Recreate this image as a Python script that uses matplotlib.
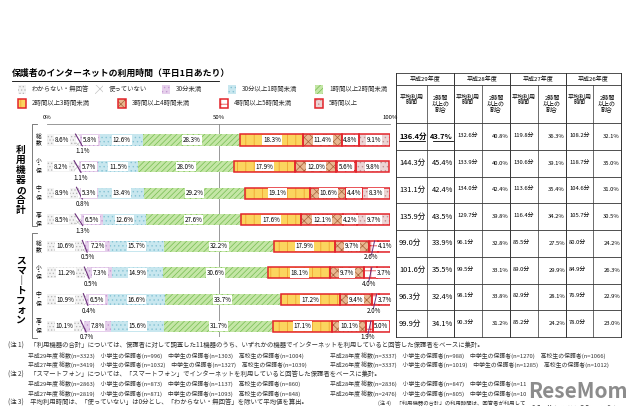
import numpy as np
import matplotlib.pyplot as plt
from matplotlib.patches import Rectangle

plt.rcParams['font.family'] = ['Noto Sans CJK JP', 'DejaVu Sans']
plt.rcParams['hatch.linewidth'] = 0.5

title = '保護者のインターネットの利用時間（平日1日あたり）'
categories = ['わからない・無回答', '使っていない', '30分未満', '30分以上1時間未満', '1時間以上2時間未満',
              '2時間以上3時間未満', '3時間以上4時間未満', '4時間以上5時間未満', '5時間以上']
groups = ['利用機器の合計', 'スマートフォン']
row_labels = ['総数', '小・保', '中・保', '高・保'] * 2

# percentages per row (8 rows: 4 for total devices, 4 for smartphone)
unknown = [8.6, 8.2, 8.9, 8.5, 10.6, 11.2, 10.9, 10.1]
not_used = [1.1, 1.1, 0.8, 1.3, 0.5, 0.5, 0.4, 0.7]
under_30m = [5.8, 5.7, 5.3, 6.5, 7.2, 7.3, 6.5, 7.8]
m30_1h = [12.6, 11.5, 13.4, 12.6, 15.7, 14.9, 16.6, 15.6]
h1_2 = [28.3, 28.0, 29.2, 27.6, 32.2, 30.6, 33.7, 31.7]
h2_3 = [18.3, 17.9, 19.1, 17.6, 17.9, 18.1, 17.2, 17.1]
h3_4 = [11.4, 12.0, 10.6, 12.1, 9.7, 9.7, 9.4, 10.1]
h4_5 = [4.8, 5.6, 4.4, 4.2, 2.6, 4.0, 2.0, 1.9]
h5_plus = [9.1, 9.8, 8.3, 9.7, 4.1, 3.7, 3.7, 5.0]

years = ['平成29年度', '平成28年度', '平成27年度', '平成26年度']
avg_h29 = [136.4, 144.3, 131.1, 135.9, 99.0, 101.6, 96.3, 99.9]
share_h29 = [43.7, 45.4, 42.4, 43.5, 33.9, 35.5, 32.4, 34.1]
avg_h28 = [132.6, 133.9, 134.0, 129.7, 96.1, 99.5, 98.1, 90.3]
share_h28 = [40.8, 40.0, 42.4, 39.8, 32.8, 33.1, 33.8, 31.2]
avg_h27 = [119.8, 130.6, 113.6, 116.4, 85.5, 89.0, 82.9, 85.2]
share_h27 = [36.3, 39.1, 35.4, 34.2, 27.5, 29.9, 28.1, 24.2]
avg_h26 = [108.2, 118.7, 104.6, 105.7, 80.0, 84.9, 76.9, 78.0]
share_h26 = [32.1, 35.0, 31.0, 30.5, 24.2, 26.3, 22.9, 23.0]

notes_left = [
    (8, '(注 1)　「利用機器の合計」については、保護者に対して調査した11機器のうち、いずれかの機器でインターネットを利用していると回答した保護者をベースに集計。'),
    (28, '平成29年度 総数(n=3323)　小学生の保護者(n=996)　中学生の保護者(n=1303)　高校生の保護者(n=1004)'),
    (28, '平成27年度 総数(n=3419)　小学生の保護者(n=1032)　中学生の保護者(n=1327)　高校生の保護者(n=1039)'),
    (8, '(注 2)　「スマートフォン」については、「スマートフォン」でインターネットを利用していると回答した保護者をベースに集計。'),
    (28, '平成29年度 総数(n=2863)　小学生の保護者(n=873)　中学生の保護者(n=1137)　高校生の保護者(n=860)'),
    (28, '平成27年度 総数(n=2819)　小学生の保護者(n=871)　中学生の保護者(n=1093)　高校生の保護者(n=848)'),
    (8, '(注 3)　平均利用時間は、「使っていない」は0分とし、「わからない・無回答」を除いて平均値を算出。'),
]
notes_right = {
    1: '平成28年度 総数(n=3337)　小学生の保護者(n=988)　中学生の保護者(n=1270)　高校生の保護者(n=1066)',
    2: '平成26年度 総数(n=3337)　小学生の保護者(n=1019)　中学生の保護者(n=1285)　高校生の保護者(n=1012)',
    4: '平成28年度 総数(n=2836)　小学生の保護者(n=847)　中学生の保護者(n=1120)　高校生の保護者(n=869)',
    5: '平成26年度 総数(n=2476)　小学生の保護者(n=805)　中学生の保護者(n=1025)　高校生の保護者(n=646)',
    6: '(注 4)　「利用機器の合計」の利用時間は、回答者が利用している各機器の利用時間を合算したもの。',
}

faces = ['#f3f3f3', '#ffffff', '#e6d0ec', '#c8e7ef', '#c4e6a6', '#fbd55e', '#e8b890', '#ffffff', '#ecd4d4']
hatches = ['.....', 'xxx', '....', '....', '//////', '||', 'xxxx', '++', '....']
hcols = ['#b5b5b5', '#c4c4c4', '#c49ad2', '#86c3d4', '#76bd52', '#ee9a2a', '#a8623a', '#e02a2a', '#c29393']
RED = '#e3242b'

W, H = 640, 412
fig = plt.figure(figsize=(6.4, 4.12), dpi=100)
bg = fig.add_axes([0, 0, 1, 1])
bg.set_xlim(0, W)
bg.set_ylim(H, 0)
bg.axis('off')


def frac(x0, y0, x1, y1):
    return [x0 / W, 1 - y1 / H, (x1 - x0) / W, (y1 - y0) / H]


ax = fig.add_axes(frac(47, 124, 390, 337))
ax.patch.set_alpha(0)
ax.set_xlim(0, 100)
ax.set_ylim(7.41, -0.60)
for s in ['left', 'right', 'bottom']:
    ax.spines[s].set_visible(False)
ax.spines['top'].set_color('#888888')
ax.spines['top'].set_linewidth(0.6)
ax.set_xticks([])
ax.set_yticks([])
ax.axvline(50, color='#888888', lw=0.6, zorder=0)

series = [unknown, not_used, under_30m, m30_1h, h1_2, h2_3, h3_4, h4_5, h5_plus]
y = np.arange(len(unknown))
bh = 0.42
left = np.zeros(len(y))
lab_box = dict(boxstyle='square,pad=0.12', fc='white', ec='none')
for k, vals in enumerate(series):
    vals = np.array(vals)
    ax.barh(y, vals, left=left, height=bh, color=faces[k], hatch=hatches[k],
            edgecolor=hcols[k], linewidth=0, zorder=2)
    if k >= 5:
        ax.barh(y, vals, left=left, height=bh, fill=False, edgecolor=RED,
                linewidth=1.1, zorder=3)
    for i, v in enumerate(vals):
        cx = left[i] + v / 2
        if k == 1:
            ax.plot([left[i] - 0.3, left[i] + v + 0.6], [i - 0.22, i + 0.22],
                    color='#6a2f7a', lw=0.8, zorder=4)
            ax.text(cx + 1.2, i + 0.42, f'{v:.1f}%', fontsize=4.5,
                    ha='center', va='center', zorder=5)
        elif k == 7 and i >= 4:
            ax.plot([cx - 0.5, cx + 0.4], [i + 0.32, i - 0.2],
                    color='#6a2f7a', lw=0.7, zorder=4)
            ax.text(cx - 0.5, i + 0.42, f'{v:.1f}%', fontsize=4.5,
                    ha='center', va='center', zorder=5)
        else:
            ax.text(cx, i, f'{v:.1f}%', fontsize=4.5, ha='center', va='center',
                    bbox=lab_box, zorder=5)
    left += vals

# axis percentage labels
for p, lab in [(0, '0%'), (50, '50%'), (100, '100%')]:
    bg.text(47 + p * 3.43, 117.5, lab, fontsize=4.3, ha='center', va='center')

# title
bg.text(12, 73, title, fontsize=6.4, fontweight='bold', ha='left', va='center')
bg.plot([12, 219], [80.5, 80.5], color='black', lw=0.6)

# legend
leg_pos = [(22, 89), (99, 89), (166, 89), (232, 89), (319, 89),
           (22, 103), (122, 103), (224, 103), (319, 103)]
for k, (lx, ly) in enumerate(leg_pos):
    bg.add_patch(Rectangle((lx - 4, ly - 4.5), 8, 9, facecolor=faces[k], hatch=hatches[k],
                           edgecolor=hcols[k], linewidth=0))
    if k >= 5:
        bg.add_patch(Rectangle((lx - 4, ly - 4.5), 8, 9, fill=False, edgecolor=RED, linewidth=1.1))
    bg.text(lx + 10, ly, categories[k], fontsize=4.6, ha='left', va='center', color='#333333')

# group brackets and labels
row_px = [140 + i * 26.6 for i in range(8)]
for g, (top, bot) in enumerate([(124, 226), (233, 338)]):
    bg.plot([37, 32, 32, 37], [top, top, bot, bot], color='#666666', lw=0.6)
    txt = groups[g].replace('ー', '｜')
    bg.text(21, (top + bot) / 2 + 5, '\n'.join(txt), fontsize=7.0, fontweight='bold',
            ha='center', va='center', linespacing=0.98)
for i, lab in enumerate(row_labels):
    bg.text(38.5, row_px[i], '\n'.join(lab), fontsize=4.2, ha='center', va='center',
            linespacing=0.95)

# table
cols = [396, 427, 454, 482, 510, 538, 566, 593, 621]
rows = [123 + i * 26.75 for i in range(9)]
lc = '#333333'
bg.plot([cols[0], cols[-1]], [73, 73], color=lc, lw=0.6)
bg.plot([cols[0], cols[-1]], [85, 85], color=lc, lw=0.6)
for r in rows:
    bg.plot([cols[0], cols[-1]], [r, r], color=lc, lw=0.6)
for j, c in enumerate(cols):
    y0 = 73 if j % 2 == 0 else 85
    bg.plot([c, c], [y0, rows[-1]], color=lc, lw=0.7 if j % 2 == 0 else 0.5)
for j, yr in enumerate(years):
    bg.text((cols[2 * j] + cols[2 * j + 2]) / 2, 79, yr, fontsize=4.3, ha='center', va='center')
    bg.text((cols[2 * j] + cols[2 * j + 1]) / 2, 100, '平均利用\n時間', fontsize=4.3,
            ha='center', va='center', linespacing=1.1)
    bg.text((cols[2 * j + 1] + cols[2 * j + 2]) / 2, 104, '2時間\n以上の\n割合', fontsize=4.3,
            ha='center', va='center', linespacing=1.1)

table_avg = [avg_h29, avg_h28, avg_h27, avg_h26]
table_share = [share_h29, share_h28, share_h27, share_h26]
for j in range(4):
    fs = 5.4 if j == 0 else 4.2
    for i in range(8):
        yc = (rows[i] + rows[i + 1]) / 2
        bold = (j == 0 and i == 0)
        bg.text(cols[2 * j] + 3, yc, f'{table_avg[j][i]:.1f}分', fontsize=fs,
                ha='left', va='center', fontweight='bold' if bold else 'normal')
        bg.text(cols[2 * j + 2] - 1, yc, f'{table_share[j][i]:.1f}%', fontsize=fs,
                ha='right', va='center', fontweight='bold' if bold else 'normal')
        if bold:
            bg.plot([cols[0] + 3, cols[1] - 2], [yc + 4.5, yc + 4.5], color='black', lw=0.6)
            bg.plot([cols[1] + 6, cols[2] - 1], [yc + 4.5, yc + 4.5], color='black', lw=0.6)

# footnotes
for n, (nx, line) in enumerate(notes_left):
    ny = 346 + n * 9.5
    fs = 4.6 if nx == 8 else 4.2
    bg.text(nx, ny, line, fontsize=fs, ha='left', va='center', color='#333333')
    if n in notes_right:
        rx = 378 if n == 6 else 330
        bg.text(rx, ny, notes_right[n], fontsize=3.85 if n == 6 else fs, ha='left',
                va='center', color='#333333')

bg.text(628, 392, 'ReseMom', fontsize=15, fontweight='bold', color='#8c8c8c',
        ha='right', va='center', bbox=dict(boxstyle='square,pad=0.1', fc='white', ec='none'))

fig.savefig('out.png', dpi=100)
